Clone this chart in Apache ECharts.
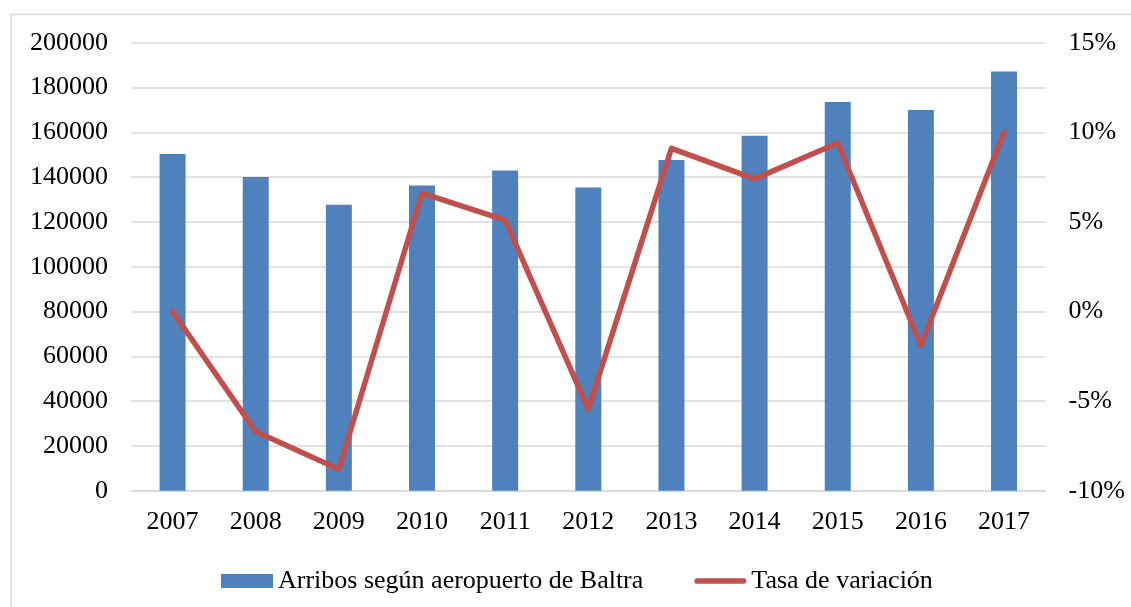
<!DOCTYPE html>
<html>
<head>
<meta charset="utf-8">
<script src="https://cdn.jsdelivr.net/npm/echarts@6/dist/echarts.min.js"></script>
<style>
html,body{margin:0;padding:0;background:#fff;}
#c{width:1131px;height:607px;}
</style>
</head>
<body>
<div id="c"></div>
<script>
const years = ['2007','2008','2009','2010','2011','2012','2013','2014','2015','2016','2017'];
const arrivals = [150300, 140000, 127700, 136300, 143000, 135400, 147600, 158500, 173500, 170000, 187100];
const rate = [0, -6.7, -8.8, 6.6, 5.1, -5.45, 9.1, 7.4, 9.4, -1.9, 10.0];
const barName = 'Arribos según aeropuerto de Baltra';
const lineName = 'Tasa de variación';

const font = 'Liberation Serif';
const lineIcon = 'path://M0,0 L0,0.01 Z M52,14 L52,13.99 Z M2.7,4.3 L49.3,4.3 A2.7,2.7 0 0 1 49.3,9.7 L2.7,9.7 A2.7,2.7 0 0 1 2.7,4.3 Z';
const chart = echarts.init(document.getElementById('c'), null, {renderer:'canvas'});
chart.setOption({
  animation: false,
  backgroundColor: '#fff',
  textStyle: {fontFamily: font, color: '#000'},
  graphic: [{
    type: 'rect',
    shape: {x: 11, y: 14.5, width: 1300, height: 800},
    style: {fill: 'none', stroke: '#D9D9D9', lineWidth: 1.5},
    silent: true
  }],
  grid: {left: 131, right: 85.4, top: 42.7, bottom: 116.3, containLabel: false},
  legend: {
    left: 216, top: 563,
    itemWidth: 52, itemHeight: 14, itemGap: 51,
    textStyle: {fontFamily: font, fontSize: 26, color: '#000'},
    data: [
      {name: barName, icon: 'rect'},
      {name: lineName, icon: lineIcon, itemStyle: {color: '#C0504D', borderWidth: 0}}
    ]
  },
  xAxis: {
    type: 'category',
    data: years,
    axisTick: {show: false},
    axisLine: {show: true, lineStyle: {color: '#D9D9D9', width: 1.5}},
    axisLabel: {fontFamily: font, fontSize: 26, color: '#000', margin: 18}
  },
  yAxis: [{
    type: 'value',
    min: 0, max: 200000, interval: 20000,
    axisLine: {show: false},
    axisTick: {show: false},
    splitLine: {show: true, lineStyle: {color: '#D9D9D9', width: 1.5}},
    axisLabel: {fontFamily: font, fontSize: 26, color: '#000', margin: 23, formatter: function (v) { return String(v); }}
  }, {
    type: 'value',
    min: -10, max: 15, interval: 5,
    position: 'right',
    axisLine: {show: false},
    axisTick: {show: false},
    splitLine: {show: false},
    axisLabel: {fontFamily: font, fontSize: 26, color: '#000', margin: 23, formatter: '{value}%'}
  }],
  series: [{
    name: barName,
    type: 'bar',
    data: arrivals,
    yAxisIndex: 0,
    barWidth: 26,
    itemStyle: {color: '#4F81BD'}
  }, {
    name: lineName,
    type: 'line',
    data: rate,
    yAxisIndex: 1,
    symbol: 'none',
    lineStyle: {color: '#C0504D', width: 5.5, cap: 'round', join: 'round'},
    itemStyle: {color: '#C0504D'}
  }]
});
</script>
</body>
</html>
